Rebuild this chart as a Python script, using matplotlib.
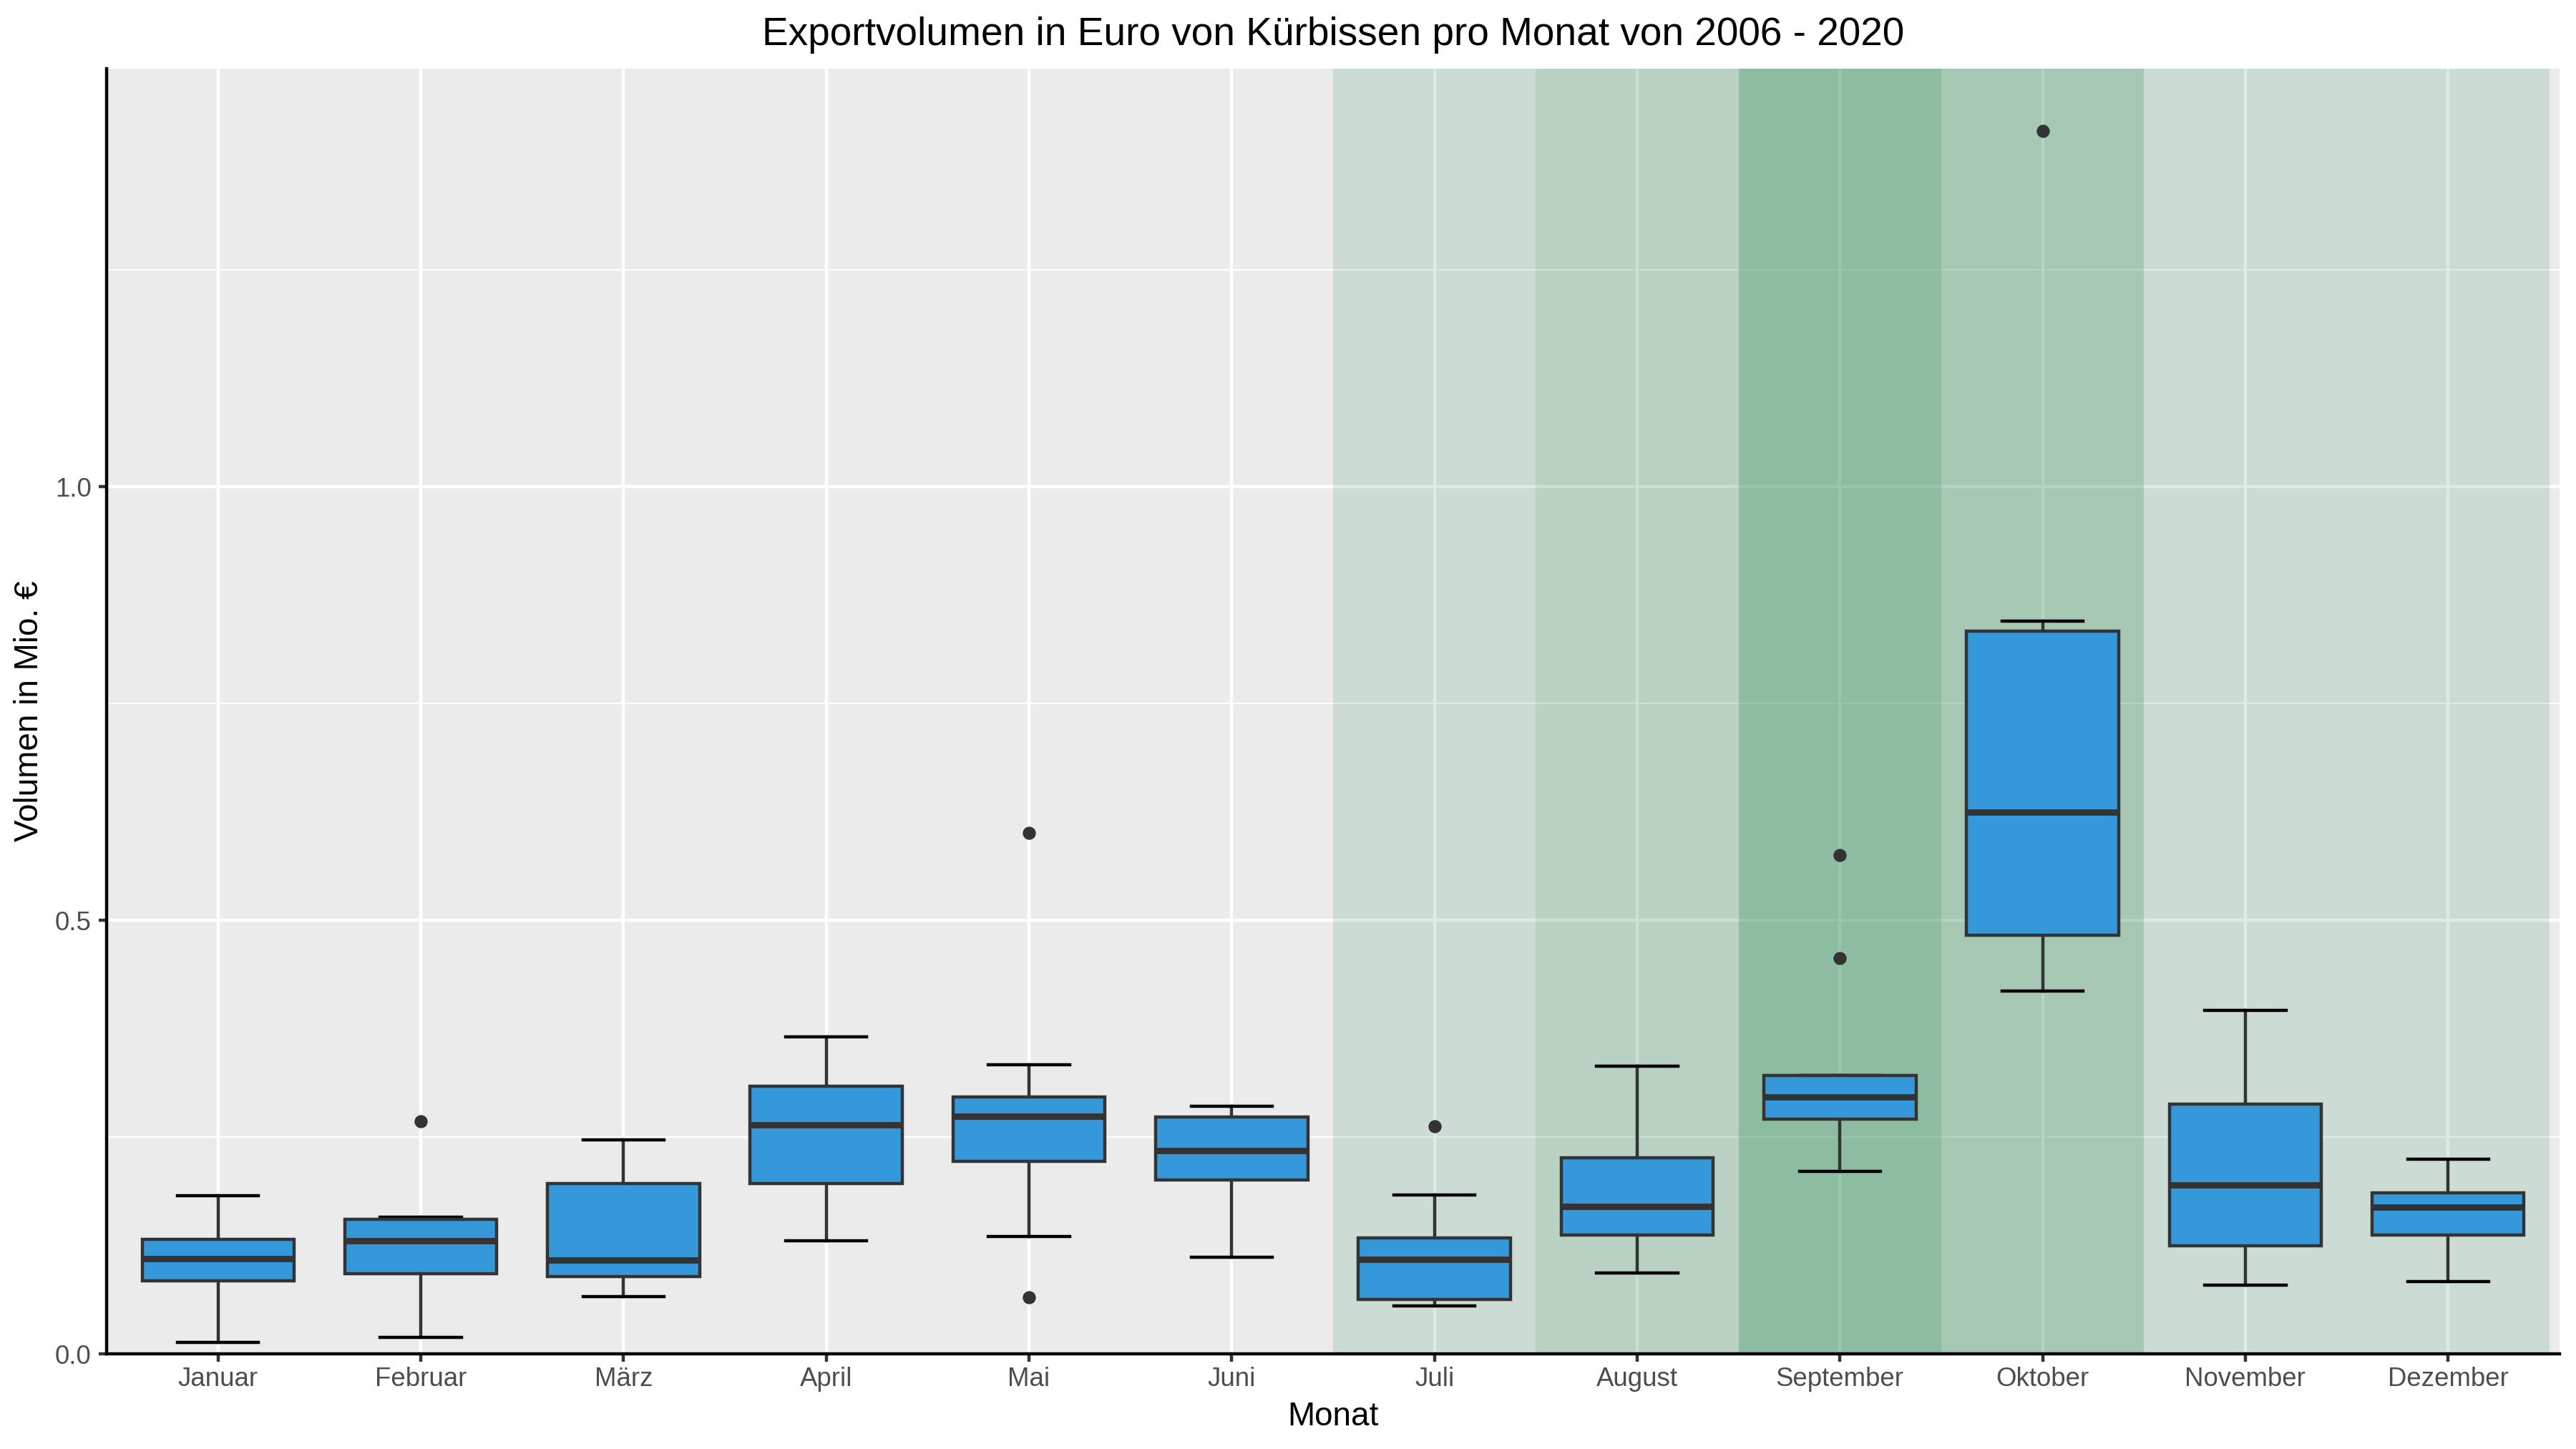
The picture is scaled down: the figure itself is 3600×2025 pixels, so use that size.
import matplotlib
matplotlib.use("Agg")
import matplotlib.pyplot as plt
from matplotlib.ticker import FixedLocator

plt.rcParams["font.family"] = ["Liberation Sans", "DejaVu Sans"]

# ── Daten (Mio. €) ───────────────────────────────────────────────
months = ["Januar", "Februar", "März", "April", "Mai", "Juni",
          "Juli", "August", "September", "Oktober", "November", "Dezember"]
whis_lo = [0.013, 0.019, 0.066, 0.130, 0.135, 0.111,
           0.055, 0.093, 0.2104, 0.4184, 0.079, 0.0834]
q1 = [0.084, 0.0925, 0.089, 0.196, 0.222, 0.2006,
      0.063, 0.137, 0.271, 0.483, 0.1246, 0.137]
median = [0.110, 0.130, 0.108, 0.264, 0.274, 0.234,
          0.109, 0.170, 0.296, 0.6243, 0.195, 0.169]
q3 = [0.132, 0.155, 0.196, 0.309, 0.296, 0.273,
      0.134, 0.2263, 0.321, 0.8336, 0.2882, 0.186]
whis_hi = [0.182, 0.158, 0.247, 0.3655, 0.333, 0.2853,
           0.183, 0.3314, 0.321, 0.8446, 0.3959, 0.2243]
outliers = [[], [0.268], [], [], [0.065, 0.601], [],
            [0.262], [], [0.456, 0.575], [1.410], [], []]

# Saison-Hervorhebung (Monat -> Deckkraft)
season_months = ["Juli", "August", "September", "Oktober", "November", "Dezember"]
season_alpha = [0.16, 0.265, 0.49, 0.37, 0.16, 0.16]

BOX_BLUE = "#3498DB"
DARK = "#333333"
SEASON_GREEN = "#2E8B57"

# ── Layout ───────────────────────────────────────────────────────
fig = plt.figure(figsize=(12, 6.75), dpi=300, facecolor="white")
ax = fig.add_axes([149 / 3600, 1 - 1892 / 2025,
                   (3577 - 149) / 3600, (1892 - 96) / 2025])
ax.set_facecolor("#EBEBEB")
ax.set_axisbelow(True)

pos = list(range(1, len(months) + 1))

# Saison-Bänder
for m, a in zip(season_months, season_alpha):
    x = months.index(m) + 1
    ax.axvspan(x - 0.5, x + 0.5, facecolor=SEASON_GREEN, alpha=a,
               linewidth=0, zorder=0.8)

# Boxplots aus Kennzahlen
stats = []
for i, m in enumerate(months):
    stats.append(dict(label=m, whislo=whis_lo[i], q1=q1[i], med=median[i],
                      q3=q3[i], whishi=whis_hi[i], fliers=outliers[i]))

ax.bxp(
    stats, positions=pos, widths=0.75, capwidths=0.4,
    patch_artist=True, showfliers=True,
    boxprops=dict(facecolor=BOX_BLUE, edgecolor=DARK, linewidth=1.07, zorder=2),
    medianprops=dict(color=DARK, linewidth=2.13, solid_capstyle="butt", zorder=2.1),
    whiskerprops=dict(color=DARK, linewidth=1.07, zorder=1.9),
    capprops=dict(color="black", linewidth=1.07, zorder=1.9),
    flierprops=dict(marker="o", markerfacecolor=DARK, markeredgecolor=DARK,
                    markersize=3.4, linestyle="none", zorder=2.2),
)

# ── Achsen ───────────────────────────────────────────────────────
ax.set_xlim(0.45, 12.55)
ax.set_ylim(0, 1.482)

ax.set_xticks(pos)
ax.set_xticklabels(months)
ax.set_yticks([0.0, 0.5, 1.0])
ax.set_yticklabels(["0.0", "0.5", "1.0"])
ax.yaxis.set_minor_locator(FixedLocator([0.25, 0.75, 1.25]))

ax.grid(which="major", color="white", linewidth=1.07)
ax.grid(which="minor", axis="y", color="white", linewidth=0.53)

ax.tick_params(axis="both", which="major", length=2.75 * 300 / 72 * 72 / 300,
               width=1.07, color=DARK, labelcolor="#4D4D4D", labelsize=8.8)
ax.tick_params(axis="x", which="major", pad=1.6)
ax.tick_params(axis="y", which="major", pad=2.4)
ax.tick_params(which="minor", length=0)

for side in ["top", "right"]:
    ax.spines[side].set_visible(False)
for side in ["left", "bottom"]:
    ax.spines[side].set_color("black")
    ax.spines[side].set_linewidth(1.07)
    ax.spines[side].set_zorder(3)

# ── Beschriftung ────────────────────────────────────────────────
cx = (149 + 3577) / 2 / 3600
fig.text(cx, 1 - 63 / 2025,
         "Exportvolumen in Euro von Kürbissen pro Monat von 2006 - 2020",
         ha="center", va="baseline", fontsize=13.2, color="black")
fig.text(cx, 1 - 1992 / 2025, "Monat",
         ha="center", va="baseline", fontsize=11, color="black")
fig.text(41.5 / 3600, 1 - 994 / 2025, "Volumen in Mio. €",
         ha="center", va="center", rotation=90, fontsize=11, color="black")

fig.savefig("out.png", dpi=300, facecolor="white")
plt.close(fig)
